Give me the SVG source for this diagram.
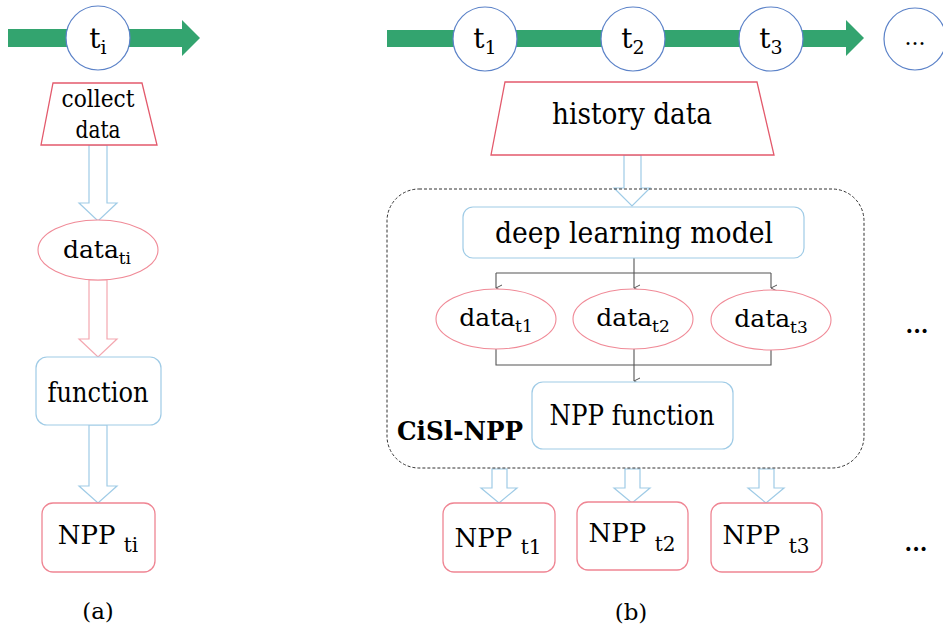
<svg xmlns="http://www.w3.org/2000/svg" width="943" height="635" viewBox="0 0 943 635">
<style>
.green{fill:#33a46f;stroke:none;}
.circ{fill:#fff;stroke:#5b82c8;stroke-width:1.2;}
.trap{fill:#fff;stroke:#e35a6c;stroke-width:1.3;}
.ell{fill:#fff;stroke:#f08a97;stroke-width:1.1;}
.bbox{fill:#fff;stroke:#9fcbe6;stroke-width:1.2;}
.rbox{fill:#fff;stroke:#ef8593;stroke-width:1.3;}
.harrB{fill:#fff;stroke:#9fcbe6;stroke-width:1.2;}
.harrR{fill:#fff;stroke:#f4a7b0;stroke-width:1.2;}
.line{fill:none;stroke:#555;stroke-width:1.1;}
.dash{fill:none;stroke:#333;stroke-width:1;stroke-dasharray:3 2;}
</style>
<defs>
<marker id="ah" markerWidth="8" markerHeight="8" refX="4" refY="7" orient="auto-start-reverse" markerUnits="userSpaceOnUse" viewBox="0 0 8 8">
<path d="M1,1 L4,7 L7,1" fill="none" stroke="#555" stroke-width="1"/>
</marker>
</defs>

<!-- timelines -->
<g id="timeline-a">
<polygon class="green" points="8,29 182,29 182,20 200,38 182,56 182,47 8,47"/>
</g>
<g id="timeline-b">
<polygon class="green" points="387,30 846,30 846,20 864,38 846,56 846,47 387,47"/>
</g>

<!-- connectors -->
<g id="connectors">
<polygon class="harrB" points="89,145 107,145 107,203 117,203 98,221 79,203 89,203"/>
<polygon class="harrR" points="89,280 107,280 107,339 117,339 98,357 79,339 89,339"/>
<polygon class="harrB" points="89,425 107,425 107,486 117,486 98,503 79,486 89,486"/>
<polygon class="harrB" points="624,155 641,155 641,188 650,188 632,206 614,188 624,188"/>
<polygon class="harrB" points="492,469 507,469 507,488 517,488 499,503 481,488 492,488"/>
<polygon class="harrB" points="625,469 640,469 640,488 650,488 632,503 614,488 625,488"/>
<polygon class="harrB" points="759,469 774,469 774,488 784,488 766,503 748,488 759,488"/>
<path class="line" d="M634,258 V288" marker-end="url(#ah)"/>
<path class="line" d="M496,273 H771"/>
<path class="line" d="M496,273 V288" marker-end="url(#ah)"/>
<path class="line" d="M771,273 V288" marker-end="url(#ah)"/>
<path class="line" d="M496,349 V365 H771 V350"/>
<path class="line" d="M634,349 V381" marker-end="url(#ah)"/>
</g>

<g font-family="DejaVu Serif" fill="#000">
<!-- panel (a) -->
<g id="ti">
<circle class="circ" cx="98" cy="38" r="32"/>
<text x="98" y="48" font-size="28" text-anchor="middle">t<tspan font-size="19" dy="6">i</tspan></text>
</g>
<g id="collect-data">
<polygon class="trap" points="53,83 142,83 157,145 41,145"/>
<text x="98" y="107" font-size="25" text-anchor="middle" textLength="73" lengthAdjust="spacingAndGlyphs">collect</text>
<text x="98" y="138" font-size="25" text-anchor="middle" textLength="45" lengthAdjust="spacingAndGlyphs">data</text>
</g>
<g id="data-ti">
<ellipse class="ell" cx="98" cy="250" rx="60" ry="30"/>
<text x="97" y="258" font-size="25" text-anchor="middle">data<tspan font-size="17" dy="6">ti</tspan></text>
</g>
<g id="function">
<rect class="bbox" x="36" y="357" width="125" height="68" rx="11"/>
<text x="98" y="402" font-size="27" text-anchor="middle" textLength="101" lengthAdjust="spacingAndGlyphs">function</text>
</g>
<g id="npp-ti">
<rect class="rbox" x="42" y="503" width="113" height="69" rx="11"/>
<text x="98" y="544" font-size="26" text-anchor="middle">NPP <tspan font-size="20" dy="8">ti</tspan></text>
</g>
<text x="98" y="619" font-size="23" text-anchor="middle">(a)</text>

<!-- panel (b) -->
<g id="t1">
<circle class="circ" cx="485" cy="39" r="32"/>
<text x="485" y="48" font-size="28" text-anchor="middle">t<tspan font-size="19" dy="6">1</tspan></text>
</g>
<g id="t2">
<circle class="circ" cx="633" cy="39" r="32"/>
<text x="633" y="48" font-size="28" text-anchor="middle">t<tspan font-size="19" dy="6">2</tspan></text>
</g>
<g id="t3">
<circle class="circ" cx="771" cy="39" r="32"/>
<text x="771" y="48" font-size="28" text-anchor="middle">t<tspan font-size="19" dy="6">3</tspan></text>
</g>
<g id="t-more">
<circle class="circ" cx="915" cy="39" r="31"/>
<text x="915" y="45" font-size="22" text-anchor="middle">...</text>
</g>
<g id="history-data">
<polygon class="trap" points="505,82 757,82 774,155 491,155"/>
<text x="632" y="124" font-size="30" text-anchor="middle" textLength="160" lengthAdjust="spacingAndGlyphs">history data</text>
</g>
<g id="cisl-npp">
<rect class="dash" x="387" y="189" width="477" height="279" rx="32"/>
<text x="397" y="440" font-size="26" font-weight="bold" textLength="126" lengthAdjust="spacingAndGlyphs">CiSl-NPP</text>
</g>
<g id="deep-learning-model">
<rect class="bbox" x="463" y="207" width="341" height="51" rx="10"/>
<text x="634" y="243" font-size="30" text-anchor="middle" textLength="278" lengthAdjust="spacingAndGlyphs">deep learning model</text>
</g>
<g id="data-t1">
<ellipse class="ell" cx="496" cy="319" rx="60" ry="30"/>
<text x="496" y="326" font-size="25" text-anchor="middle">data<tspan font-size="17" dy="6">t1</tspan></text>
</g>
<g id="data-t2">
<ellipse class="ell" cx="633" cy="319" rx="60" ry="30"/>
<text x="633" y="326" font-size="25" text-anchor="middle">data<tspan font-size="17" dy="6">t2</tspan></text>
</g>
<g id="data-t3">
<ellipse class="ell" cx="771" cy="320" rx="60" ry="30"/>
<text x="771" y="327" font-size="25" text-anchor="middle">data<tspan font-size="17" dy="6">t3</tspan></text>
</g>
<text x="917" y="333" font-size="22" font-weight="bold" text-anchor="middle">...</text>
<g id="npp-function">
<rect class="bbox" x="532" y="382" width="201" height="67" rx="11"/>
<text x="632" y="425" font-size="27" text-anchor="middle" textLength="165" lengthAdjust="spacingAndGlyphs">NPP function</text>
</g>
<g id="npp-t1">
<rect class="rbox" x="443" y="503" width="112" height="69" rx="11"/>
<text x="498" y="547" font-size="26" text-anchor="middle">NPP <tspan font-size="20" dy="7">t1</tspan></text>
</g>
<g id="npp-t2">
<rect class="rbox" x="577" y="502" width="111" height="68" rx="11"/>
<text x="632" y="542" font-size="26" text-anchor="middle">NPP <tspan font-size="20" dy="9">t2</tspan></text>
</g>
<g id="npp-t3">
<rect class="rbox" x="711" y="503" width="111" height="69" rx="11"/>
<text x="766" y="544" font-size="26" text-anchor="middle">NPP <tspan font-size="20" dy="9">t3</tspan></text>
</g>
<text x="916" y="551" font-size="22" font-weight="bold" text-anchor="middle">...</text>
<text x="631" y="620" font-size="23" text-anchor="middle">(b)</text>
</g>
</svg>
